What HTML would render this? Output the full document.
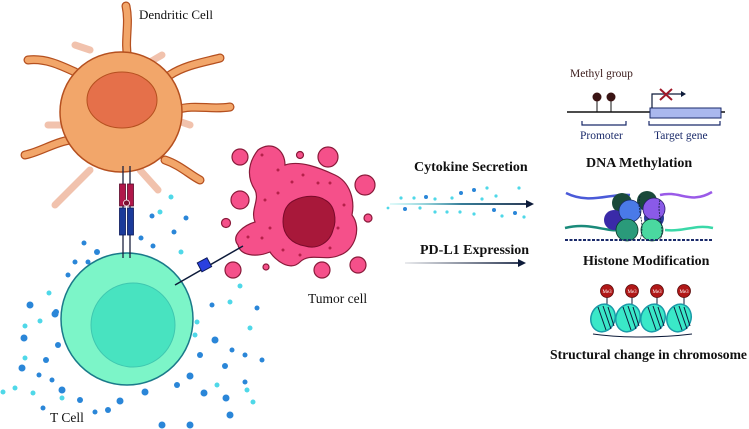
<!DOCTYPE html>
<html><head><meta charset="utf-8"><style>
html,body{margin:0;padding:0;background:#fff;width:749px;height:429px;overflow:hidden}
svg{display:block}
text{font-family:"Liberation Serif",serif;fill:#111}
.b{font-weight:bold}
</style></head><body>
<svg width="749" height="429" viewBox="0 0 749 429" xmlns="http://www.w3.org/2000/svg">
<defs>
<linearGradient id="g1" gradientUnits="userSpaceOnUse" x1="390" y1="0" x2="532" y2="0"><stop offset="0" stop-color="#4fe0e0" stop-opacity="0.2"/><stop offset="0.5" stop-color="#1a6a8a"/><stop offset="1" stop-color="#0d1b3a"/></linearGradient>
<linearGradient id="g2" gradientUnits="userSpaceOnUse" x1="405" y1="0" x2="524" y2="0"><stop offset="0" stop-color="#0d1b3a" stop-opacity="0.1"/><stop offset="1" stop-color="#0d1b3a"/></linearGradient>
</defs>
<g stroke="#e89a78" stroke-width="7" stroke-linecap="round" fill="none" opacity="0.6">
<path d="M90,50 L75,45"/><path d="M150,62 L162,55"/><path d="M65,125 L48,125"/><path d="M175,120 L190,125"/><path d="M90,170 L55,205"/><path d="M140,170 L158,190"/>
</g>
<g stroke="#b5501f" stroke-width="9" stroke-linecap="round" fill="none"><path d="M128,60 C124,40 130,25 126,6"/><path d="M75,72 C60,65 45,58 28,60"/><path d="M70,140 C55,142 40,152 25,155"/><path d="M175,110 C195,104 210,110 230,107"/><path d="M170,75 C185,65 205,62 220,58"/><path d="M165,160 C180,165 190,175 200,180"/></g>
<g stroke="#f2a66a" stroke-width="6.5" stroke-linecap="round" fill="none"><path d="M128,60 C124,40 130,25 126,6"/><path d="M75,72 C60,65 45,58 28,60"/><path d="M70,140 C55,142 40,152 25,155"/><path d="M175,110 C195,104 210,110 230,107"/><path d="M170,75 C185,65 205,62 220,58"/><path d="M165,160 C180,165 190,175 200,180"/></g>
<ellipse cx="121" cy="112" rx="61" ry="60" fill="#f2a66a" stroke="#b5501f" stroke-width="1.5"/>
<ellipse cx="122" cy="100" rx="35" ry="28" fill="#e5704a" stroke="#b5501f" stroke-width="1"/>
<g fill="#2a86d8">
<circle cx="30" cy="305" r="3.5"/><circle cx="24" cy="338" r="3.5"/><circle cx="22" cy="368" r="3.5"/><circle cx="46" cy="360" r="3"/><circle cx="55" cy="314" r="3.5"/><circle cx="62" cy="390" r="3.5"/><circle cx="43" cy="408" r="2.5"/><circle cx="95" cy="412" r="2.5"/><circle cx="120" cy="401" r="3.5"/><circle cx="145" cy="392" r="3.5"/><circle cx="162" cy="425" r="3.5"/><circle cx="190" cy="425" r="3.5"/><circle cx="204" cy="393" r="3.5"/><circle cx="230" cy="415" r="3.5"/><circle cx="212" cy="305" r="2.5"/><circle cx="215" cy="340" r="3.5"/><circle cx="232" cy="350" r="2.5"/><circle cx="225" cy="366" r="3"/><circle cx="245" cy="355" r="2.5"/><circle cx="257" cy="308" r="2.5"/><circle cx="262" cy="360" r="2.5"/><circle cx="190" cy="376" r="3.5"/><circle cx="177" cy="385" r="3"/><circle cx="152" cy="216" r="2.5"/><circle cx="186" cy="218" r="2.5"/><circle cx="174" cy="232" r="2.5"/><circle cx="141" cy="238" r="2.5"/><circle cx="153" cy="246" r="2.5"/><circle cx="84" cy="243" r="2.5"/><circle cx="97" cy="252" r="3"/><circle cx="88" cy="262" r="2.5"/><circle cx="75" cy="262" r="2.5"/><circle cx="68" cy="275" r="2.5"/><circle cx="56" cy="312" r="3"/><circle cx="58" cy="345" r="3"/><circle cx="52" cy="380" r="2.5"/><circle cx="39" cy="375" r="2.5"/><circle cx="80" cy="400" r="3"/><circle cx="108" cy="410" r="3"/><circle cx="226" cy="398" r="3.5"/><circle cx="200" cy="355" r="3"/><circle cx="245" cy="382" r="2.5"/>
</g>
<g fill="#4fd8e8">
<circle cx="171" cy="197" r="2.5"/><circle cx="160" cy="212" r="2.5"/><circle cx="181" cy="252" r="2.5"/><circle cx="49" cy="293" r="2.5"/><circle cx="25" cy="326" r="2.5"/><circle cx="40" cy="321" r="2.5"/><circle cx="25" cy="358" r="2.5"/><circle cx="15" cy="388" r="2.5"/><circle cx="33" cy="393" r="2.5"/><circle cx="3" cy="392" r="2.5"/><circle cx="62" cy="398" r="2.5"/><circle cx="240" cy="286" r="2.5"/><circle cx="230" cy="302" r="2.5"/><circle cx="197" cy="322" r="2.5"/><circle cx="250" cy="328" r="2.5"/><circle cx="217" cy="385" r="2.5"/><circle cx="247" cy="390" r="2.5"/><circle cx="253" cy="402" r="2.5"/><circle cx="195" cy="335" r="2.5"/><circle cx="175" cy="278" r="2.5"/>
</g>
<circle cx="127" cy="319" r="66" fill="#7cf5c8" stroke="#1a7a8a" stroke-width="1.5"/>
<circle cx="133" cy="325" r="42" fill="#48e3c0" stroke="#3fc7b0" stroke-width="1"/>
<g stroke="#1d2240" stroke-width="1.3"><line x1="123" y1="166" x2="123" y2="258"/><line x1="130" y1="166" x2="130" y2="258"/></g>
<rect x="119.5" y="184" width="6" height="22" fill="#b0174a" stroke="#5a0a2a" stroke-width="0.8"/>
<rect x="127.5" y="184" width="6" height="22" fill="#b0174a" stroke="#5a0a2a" stroke-width="0.8"/>
<rect x="119.5" y="208" width="6" height="27" fill="#1a3a9a" stroke="#0a1a5a" stroke-width="0.8"/>
<rect x="127.5" y="208" width="6" height="27" fill="#1a3a9a" stroke="#0a1a5a" stroke-width="0.8"/>
<circle cx="126.5" cy="203" r="3" fill="#7a1030" stroke="#fff" stroke-width="0.8"/>
<g fill="#f5508a" stroke="#8a1a3a" stroke-width="1.2">
<circle cx="240" cy="157" r="8"/><circle cx="300" cy="155" r="3.5"/><circle cx="328" cy="157" r="10"/><circle cx="365" cy="185" r="10"/><circle cx="240" cy="200" r="9"/><circle cx="226" cy="223" r="4.5"/><circle cx="368" cy="218" r="4"/><circle cx="233" cy="270" r="8"/><circle cx="266" cy="267" r="3"/><circle cx="322" cy="270" r="8"/><circle cx="358" cy="265" r="8"/>
<path d="M258,150 C272,140 285,150 285,165 C300,160 320,168 335,175 C350,182 355,200 352,215 C362,228 355,250 340,255 C325,262 310,252 300,262 C290,272 275,260 270,252 C255,258 240,255 238,245 C230,235 245,225 255,222 C250,210 260,200 255,190 C245,175 250,160 258,150 Z"/>
</g>
<path d="M295,200 C305,195 318,195 325,200 C335,205 337,220 333,230 C330,242 318,250 305,246 C292,244 283,235 283,222 C283,210 288,203 295,200 Z" fill="#a8183a" stroke="#7a0a2a" stroke-width="1"/>
<g fill="#b5204a"><circle cx="262" cy="155" r="1.5"/><circle cx="278" cy="170" r="1.5"/><circle cx="292" cy="182" r="1.5"/><circle cx="303" cy="175" r="1.5"/><circle cx="318" cy="183" r="1.5"/><circle cx="330" cy="183" r="1.5"/><circle cx="265" cy="200" r="1.5"/><circle cx="278" cy="193" r="1.5"/><circle cx="270" cy="228" r="1.5"/><circle cx="262" cy="238" r="1.5"/><circle cx="283" cy="250" r="1.5"/><circle cx="300" cy="255" r="1.5"/><circle cx="330" cy="248" r="1.5"/><circle cx="338" cy="228" r="1.5"/><circle cx="344" cy="205" r="1.5"/><circle cx="248" cy="237" r="1.5"/></g>
<line x1="175" y1="285" x2="243" y2="246" stroke="#0d1b3a" stroke-width="1.5"/>
<rect x="199" y="260" width="11" height="10" fill="#2a40e0" stroke="#0d1b5a" stroke-width="1" transform="rotate(-28 204 265)"/>
<text x="139" y="19" font-size="13">Dendritic Cell</text>
<text x="308" y="303" font-size="13.5">Tumor cell</text>
<text x="50" y="422" font-size="13.5">T Cell</text>
<text x="414" y="171" font-size="14" class="b">Cytokine Secretion</text>
<path d="M390,204 H530" stroke="url(#g1)" stroke-width="1.8" fill="none"/><path d="M526,200 L534,204 L526,208 z" fill="#0d1b3a"/>
<g fill="#2a86d8"><circle cx="426" cy="197" r="2"/><circle cx="405" cy="209" r="2"/><circle cx="461" cy="193" r="2"/><circle cx="474" cy="190" r="2"/><circle cx="494" cy="210" r="2"/><circle cx="515" cy="213" r="2"/></g>
<g fill="#4fd8e8"><circle cx="401" cy="198" r="1.6"/><circle cx="414" cy="198" r="1.6"/><circle cx="435" cy="199" r="1.6"/><circle cx="420" cy="208" r="1.6"/><circle cx="435" cy="212" r="1.6"/><circle cx="447" cy="212" r="1.6"/><circle cx="452" cy="198" r="1.6"/><circle cx="460" cy="212" r="1.6"/><circle cx="482" cy="199" r="1.6"/><circle cx="487" cy="188" r="1.6"/><circle cx="474" cy="214" r="1.6"/><circle cx="496" cy="196" r="1.6"/><circle cx="502" cy="216" r="1.6"/><circle cx="519" cy="188" r="1.6"/><circle cx="524" cy="217" r="1.6"/><circle cx="388" cy="208" r="1.4"/></g>
<text x="420" y="254" font-size="14" class="b">PD-L1 Expression</text>
<path d="M405,263 H522" stroke="url(#g2)" stroke-width="1.8" fill="none"/><path d="M518,259 L526,263 L518,267 z" fill="#0d1b3a"/>
<text x="570" y="77" font-size="11.5" style="fill:#3a1a1a">Methyl group</text>
<line x1="567" y1="112" x2="725" y2="112" stroke="#111" stroke-width="1.5"/>
<line x1="597" y1="98" x2="597" y2="112" stroke="#111"/><line x1="611" y1="98" x2="611" y2="112" stroke="#111"/>
<circle cx="597" cy="97" r="4.5" fill="#3a1414"/><circle cx="611" cy="97" r="4.5" fill="#3a1414"/>
<rect x="650" y="108" width="71" height="10" fill="#aab8ee" stroke="#1a2a6a" stroke-width="1"/>
<path d="M652,108 V94 H682" fill="none" stroke="#0d1b3a" stroke-width="1.2"/><path d="M681,91 L686,94 L681,97 z" fill="#0d1b3a"/>
<path d="M660,89 L672,100 M672,89 L660,100" stroke="#a01828" stroke-width="2"/>
<path d="M582,121 V125 H626 V121 M649,121 V125 H720 V121" fill="none" stroke="#1a2a6a" stroke-width="1.2"/>
<text x="580" y="139" font-size="11.5" style="fill:#1a2a6a">Promoter</text>
<text x="654" y="139" font-size="11.5" style="fill:#1a2a6a">Target gene</text>
<text x="586" y="167" font-size="14" class="b">DNA Methylation</text>
<path d="M566,193 C590,205 610,193 630,195" stroke="#4a5ad8" stroke-width="2.5" fill="none"/>
<path d="M660,195 C680,190 690,205 712,192" stroke="#9a5ae8" stroke-width="2.5" fill="none"/>
<path d="M565,228 C590,222 605,232 620,230" stroke="#1a8a7a" stroke-width="2.5" fill="none"/>
<path d="M665,230 C685,232 695,224 713,228" stroke="#3ad8a8" stroke-width="2.5" fill="none"/>
<circle cx="622" cy="203" r="10" fill="#1a4a3a"/><circle cx="647" cy="201" r="10" fill="#1a4a3a"/>
<circle cx="614" cy="220" r="10" fill="#3a2aa8"/><circle cx="654" cy="218" r="10" fill="#2a3a9a"/>
<circle cx="630" cy="211" r="11" fill="#4a7ae8" stroke="#1a2a6a" stroke-width="0.8"/><circle cx="654" cy="209" r="11" fill="#8a5ae8" stroke="#2a1a6a" stroke-width="0.8"/>
<circle cx="627" cy="230" r="11" fill="#2a9a7a" stroke="#0a3a2a" stroke-width="0.8"/><circle cx="652" cy="230" r="11" fill="#4ad8a0" stroke="#0a3a2a" stroke-width="0.8"/>
<path d="M640,196 C636,210 646,222 640,240 M660,200 C656,215 666,228 660,240" stroke="#0d1b3a" stroke-width="0.8" fill="none" stroke-dasharray="2 1"/>
<path d="M565,240 H713" stroke="#1a2a6a" stroke-width="2" stroke-dasharray="3 1.5"/>
<text x="583" y="265" font-size="14" class="b">Histone Modification</text>
<g>
<path d="M593,334 C620,338 660,338 692,334" stroke="#0d1b3a" stroke-width="1" fill="none"/>
<g stroke="#0d1b3a" stroke-width="1"><line x1="607" y1="297" x2="607" y2="305"/><line x1="632" y1="297" x2="632" y2="305"/><line x1="657" y1="297" x2="657" y2="305"/><line x1="684" y1="297" x2="684" y2="305"/></g>
<g fill="#3ae8c8" stroke="#1a9aa8" stroke-width="1.5">
<ellipse cx="603" cy="318" rx="12" ry="14" transform="rotate(20 603 318)"/><ellipse cx="628" cy="318" rx="12" ry="14" transform="rotate(20 628 318)"/><ellipse cx="653" cy="318" rx="12" ry="14" transform="rotate(20 653 318)"/><ellipse cx="679" cy="318" rx="12" ry="14" transform="rotate(20 679 318)"/>
</g>
<g stroke="#0d1b3a" stroke-width="1" fill="none">
<path d="M598,307 L606,330 M603,306 L611,329 M608,307 L614,326 M623,307 L631,330 M628,306 L636,329 M633,307 L639,326 M648,307 L656,330 M653,306 L661,329 M658,307 L664,326 M674,307 L682,330 M679,306 L687,329 M684,307 L690,326"/>
</g>
<g fill="#b01818" stroke="#5a0a0a" stroke-width="0.8"><circle cx="607" cy="291" r="6.5"/><circle cx="632" cy="291" r="6.5"/><circle cx="657" cy="291" r="6.5"/><circle cx="684" cy="291" r="6.5"/></g>
<g font-size="5" style="font-family:'Liberation Sans',sans-serif"><text x="602.5" y="293" style="fill:#fff">Me3</text><text x="627.5" y="293" style="fill:#fff">Me3</text><text x="652.5" y="293" style="fill:#fff">Me3</text><text x="679.5" y="293" style="fill:#fff">Me3</text></g>
</g>
<text x="550" y="359" font-size="13.5" class="b" textLength="197" lengthAdjust="spacingAndGlyphs">Structural change in chromosome</text>
</svg>
</body></html>
